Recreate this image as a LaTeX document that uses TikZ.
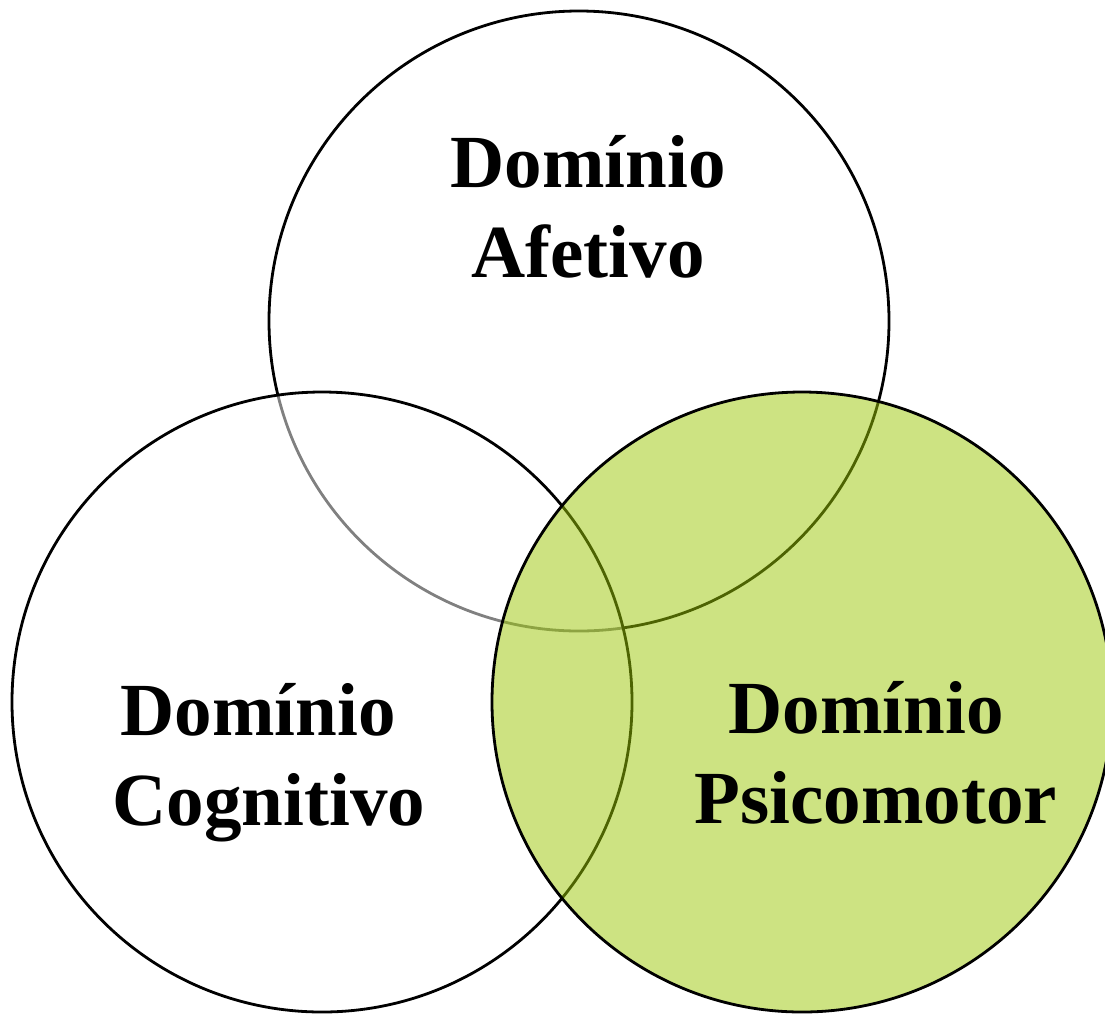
\documentclass[tikz,border=0pt]{standalone}
\usepackage{fontspec}
\setmainfont{Liberation Serif}
\definecolor{psigreen}{RGB}{155,199,5}
\begin{document}
\begin{tikzpicture}[x=1pt,y=-1pt,
  venn/.style={circle,draw=black,line width=2.8pt,minimum size=620pt,inner sep=0pt,outer sep=0pt},
  lbl/.style={anchor=base,inner sep=0pt,font=\fontsize{75}{90}\selectfont\bfseries}]
\useasboundingbox (0,0) rectangle (1105,1013);
\clip (0,0) rectangle (1105,1013);
\node[venn] (afet) at (579,321) {};
\node[venn,fill=white,fill opacity=0.5] (cogn) at (322,702) {};
\node[venn,fill=psigreen,fill opacity=0.5] (psic) at (802,702) {};
\node[lbl] (a1) at (588,187) {Domínio};
\node[lbl] (a2) at (588,277) {Afetivo};
\node[lbl] (c1) at (258,735) {Domínio};
\node[lbl] (c2) at (269,825) {Cognitivo};
\node[lbl] (p1) at (866,733) {Domínio};
\node[lbl] (p2) at (876,823) {Psicomotor};
\end{tikzpicture}
\end{document}
